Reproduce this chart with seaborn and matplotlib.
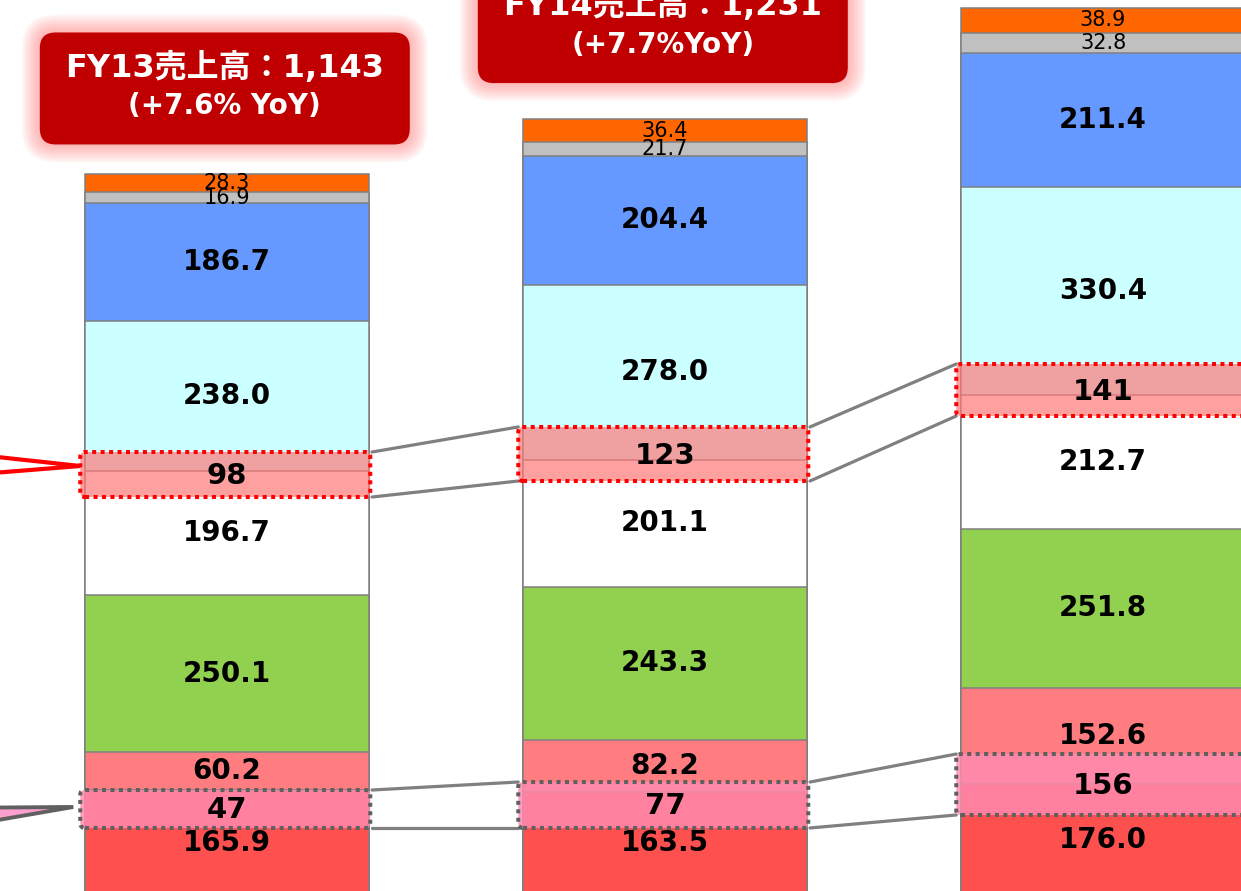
import numpy as np
import pandas as pd
import matplotlib
matplotlib.use("Agg")
import matplotlib.pyplot as plt
import seaborn as sns
from matplotlib.patches import FancyBboxPatch, Polygon
from matplotlib.colors import to_rgba

# ---------------- data ----------------
years = ["FY13", "FY14", "FY15"]
# stacked segments, bottom -> top
seg_red = [165.9, 163.5, 176.0]
seg_pink = [60.2, 82.2, 152.6]
seg_green = [250.1, 243.3, 251.8]
seg_white = [196.7, 201.1, 212.7]
seg_cyan = [238.0, 278.0, 330.4]
seg_blue = [186.7, 204.4, 211.4]
seg_gray = [16.9, 21.7, 32.8]
seg_orange = [28.3, 36.4, 38.9]

# highlighted sub-amounts (dotted boxes)
hl_upper_vals = [98, 123, 141]
hl_lower_vals = [47, 77, 156]
# highlight ranges on the value axis (lo, hi)
hl_upper_lo = [631.2, 656.6, 759.7]
hl_upper_hi = [702.6, 742.3, 842.2]
hl_lower_lo = [106.3, 106.3, 126.9]
hl_lower_hi = [166.5, 179.2, 223.6]

title_main = ["FY13売上高：1,143", "FY14売上高：1,231"]
title_sub = ["(+7.6% YoY)", "(+7.7%YoY)"]

# ---------------- style ----------------
sns.set_theme(style="white")
plt.rcParams['font.family'] = ['DejaVu Sans', 'Noto Sans CJK JP']

stack = np.array([seg_red, seg_pink, seg_green, seg_white,
                  seg_cyan, seg_blue, seg_gray, seg_orange])
colors = ["#FF5050", "#FF7C80", "#92D050", "#FFFFFF",
          "#CCFFFF", "#6699FF", "#C0C0C0", "#FF6600"]
small = [False, False, False, False, False, False, True, True]
EDGE = "#808080"

cum = np.cumsum(stack, axis=0)
totals = cum[-1]

fig = plt.figure(figsize=(12.41, 8.91), dpi=100)
ax = fig.add_axes([0, 0, 1, 1])

PX_X = 438.0     # pixels per category unit
PX_Y = 0.6305    # pixels per value unit
ASPECT = PX_X / PX_Y
BAR_W = 284 / PX_X
HB_W = 290 / PX_X

# stacked bars drawn as cumulative bars, tallest first
for i in reversed(range(len(stack))):
    df = pd.DataFrame({"year": years, "v": cum[i]})
    sns.barplot(data=df, x="year", y="v", color=colors[i], width=BAR_W,
                edgecolor=EDGE, linewidth=1.1, errorbar=None,
                saturation=1, ax=ax, zorder=2)

# segment labels
for i in range(len(stack)):
    for j in range(len(years)):
        y = cum[i][j] - stack[i][j] / 2
        if small[i]:
            ax.text(j, y, f"{stack[i][j]:.1f}", ha="center", va="center",
                    fontsize=15, color="black", family="DejaVu Sans", zorder=5)
        else:
            ax.text(j, y, f"{stack[i][j]:.1f}", ha="center", va="center",
                    fontsize=20, fontweight="bold", color="black",
                    family="DejaVu Sans", zorder=5)


def hl_box(j, lo, hi, fc, ec):
    p = FancyBboxPatch((j - HB_W / 2 - 0.004, lo), HB_W, hi - lo,
                       boxstyle="round,pad=0,rounding_size=0.011",
                       mutation_aspect=ASPECT, facecolor=fc, edgecolor=ec,
                       linewidth=2.9, linestyle=(0, (1, 1.1)), zorder=4)
    ax.add_patch(p)


# connectors between highlight boxes
for lo_list, hi_list in [(hl_upper_lo, hl_upper_hi), (hl_lower_lo, hl_lower_hi)]:
    for j in range(len(years) - 1):
        for arr in (lo_list, hi_list):
            ax.plot([j + HB_W / 2, j + 1 - HB_W / 2 - 0.004], [arr[j], arr[j + 1]],
                    color="#808080", lw=2.3, solid_capstyle="round", zorder=3)

for j in range(len(years)):
    hl_box(j, hl_upper_lo[j], hl_upper_hi[j], to_rgba("#FF7878", 0.7), "#FF0000")
    ax.text(j, (hl_upper_lo[j] + hl_upper_hi[j]) / 2 - 3, str(hl_upper_vals[j]),
            ha="center", va="center", fontsize=21, fontweight="bold",
            color="black", family="DejaVu Sans", zorder=6)
    hl_box(j, hl_lower_lo[j], hl_lower_hi[j], to_rgba("#FF8AB0", 0.83), "#606060")
    ax.text(j, (hl_lower_lo[j] + hl_lower_hi[j]) / 2 - 2, str(hl_lower_vals[j]),
            ha="center", va="center", fontsize=21, fontweight="bold",
            color="black", family="DejaVu Sans", zorder=6)

# callout wedges coming from the left
left_x = -227 / PX_X
tip_x = 0 - HB_W / 2 - 0.004
red_wedge = Polygon([[left_x - 0.05, 698.0], [tip_x, 680.4], [left_x - 0.05, 667.5]],
                    closed=False, facecolor="white", edgecolor="#FF0000",
                    linewidth=3.0, zorder=5)
ax.add_patch(red_wedge)
gray_wedge = Polygon([[left_x - 0.05, 138.5], [tip_x - 0.016, 139.6], [left_x - 0.05, 113.5]],
                     closed=False, facecolor="#FFA0D0", edgecolor="#606060",
                     linewidth=2.8, zorder=5)
ax.add_patch(gray_wedge)

# title boxes with glow
TB_W = 370 / PX_X
TB_H = 112 / PX_Y
title_gap_px = [30, 36]
for j in range(len(title_main)):
    y0 = totals[j] + title_gap_px[j] / PX_Y
    x0 = j - TB_W / 2 - 0.005
    for k in range(10, 0, -1):
        ex = k * 1.8 / PX_X
        g = FancyBboxPatch((x0 - ex, y0 - ex * ASPECT), TB_W + 2 * ex, TB_H + 2 * ex * ASPECT,
                           boxstyle=f"round,pad=0,rounding_size={0.036 + ex}",
                           mutation_aspect=ASPECT, facecolor=to_rgba("#FF7070", 0.06),
                           edgecolor="none", zorder=6)
        ax.add_patch(g)
    b = FancyBboxPatch((x0, y0), TB_W, TB_H,
                       boxstyle="round,pad=0,rounding_size=0.036",
                       mutation_aspect=ASPECT, facecolor="#C00000",
                       edgecolor="none", zorder=7)
    ax.add_patch(b)
    cy = y0 + TB_H / 2
    ax.text(j - 0.005, cy + 21 / PX_Y, title_main[j], ha="center", va="center",
            fontsize=23, fontweight="bold", color="white",
            family=['DejaVu Sans', 'Noto Sans CJK JP'], zorder=8)
    ax.text(j - 0.005, cy - 18 / PX_Y, title_sub[j], ha="center", va="center",
            fontsize=20, fontweight="bold", color="white",
            family="DejaVu Sans", zorder=8)

ax.set_xlim(-227 / PX_X, (1241 - 227) / PX_X)
ax.set_ylim((895 - 891) / PX_Y, 895 / PX_Y)
ax.axis("off")

fig.savefig("out.png", dpi=100)
